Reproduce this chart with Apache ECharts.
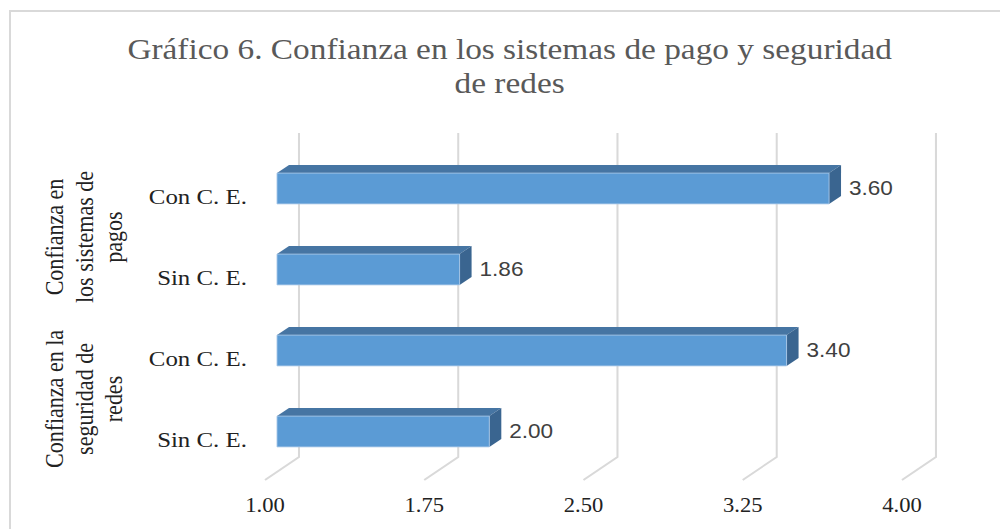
<!DOCTYPE html>
<html>
<head>
<meta charset="utf-8">
<script src="https://cdn.jsdelivr.net/npm/echarts@6/dist/echarts.min.js"></script>
<style>
  html, body { margin: 0; padding: 0; background: #fff; overflow: hidden; }
  #frame { position: absolute; left: 9px; top: 10px; width: 1000px; height: 540px;
           border-left: 2px solid #d9d9d9; border-top: 2px solid #d9d9d9; }
  /* the source picture is stretched horizontally, so the chart is too */
  #chart { position: absolute; left: 0; top: 0; width: 885px; height: 529px;
           transform: scaleX(1.13); transform-origin: 0 0; }
</style>
</head>
<body>
<div id="frame"></div>
<div id="chart"></div>
<script>
const categories = ['Con C. E.', 'Sin C. E.', 'Con C. E.', 'Sin C. E.'];
const groups = ['Confianza en\nlos sistemas de\npagos', 'Confianza en la\nseguridad de\nredes'];
const values = [3.60, 1.86, 3.40, 2.00];
const ticks = [1.00, 1.75, 2.50, 3.25, 4.00];

// 3d offsets (chart px): bar front, bar depth, back wall
const S = 1.13;
const DX = 12 / S, DY = -8;
const WX = 34 / S, WY = -23;

var chart = echarts.init(document.getElementById('chart'), null, { renderer: 'svg' });

var option = {
  animation: false,
  title: {
    text: 'Gráfico 6. Confianza en los sistemas de pago y seguridad\nde redes',
    left: 451,
    top: 32,
    textAlign: 'center',
    padding: 0,
    textStyle: {
      fontFamily: '"Liberation Serif", serif',
      fontSize: 29.5,
      fontWeight: 'normal',
      color: '#595959',
      lineHeight: 34
    }
  },
  grid: { left: 234.5, right: 86.8, top: 156, bottom: 49, containLabel: false },
  xAxis: {
    type: 'value',
    min: 1,
    max: 4,
    interval: 0.75,
    axisLine: { show: false },
    axisTick: { show: false },
    splitLine: { show: false },
    axisLabel: {
      margin: 15,
      formatter: v => v.toFixed(2),
      fontFamily: '"Liberation Serif", serif',
      fontSize: 20,
      color: '#222'
    }
  },
  yAxis: [
    {
      type: 'category',
      data: categories,
      inverse: true,
      axisLine: { show: false },
      axisTick: { show: false },
      axisLabel: {
        interval: 0,
        margin: 16,
        fontFamily: '"Liberation Serif", serif',
        fontSize: 22,
        color: '#222'
      }
    },
    {
      type: 'category',
      data: groups,
      inverse: true,
      position: 'left',
      axisLine: { show: false },
      axisTick: { show: false },
      axisLabel: {
        interval: 0,
        rotate: 90,
        margin: 121,
        align: 'center',
        verticalAlign: 'bottom',
        lineHeight: 26,
        fontFamily: '"Liberation Serif", serif',
        fontSize: 22,
        color: '#222'
      }
    }
  ],
  series: [
    {
      // perspective gridlines: front floor edge -> back wall
      type: 'custom',
      silent: true,
      z: 1,
      data: ticks.map(t => [t, 0]),
      renderItem: function (params, api) {
        var p = api.coord([api.value(0), 0]);
        var cs = params.coordSys;
        var bottom = cs.y + cs.height, top = cs.y;
        return {
          type: 'polyline',
          shape: { points: [[p[0], bottom], [p[0] + WX, bottom + WY], [p[0] + WX, top + WY]] },
          style: { stroke: '#d9d9d9', lineWidth: 1.8, fill: null }
        };
      }
    },
    {
      type: 'custom',
      z: 2,
      data: values.map((v, i) => [v, i]),
      renderItem: function (params, api) {
        var v = api.value(0), i = api.value(1);
        var s = api.coord([1, i]);
        var e = api.coord([v, i]);
        var bh = api.size([0, 1])[1] * 0.38;
        var x0 = s[0] + DX, x1 = e[0] + DX;
        var yt = s[1] - bh / 2 + DY, yb = s[1] + bh / 2 + DY;
        return {
          type: 'group',
          children: [
            {
              type: 'polygon',
              shape: { points: [[x0, yt], [x1, yt], [x1 + DX, yt + DY], [x0 + DX, yt + DY]] },
              style: { fill: '#4675a3' }
            },
            {
              type: 'polygon',
              shape: { points: [[x1, yt], [x1, yb], [x1 + DX, yb + DY], [x1 + DX, yt + DY]] },
              style: { fill: '#3a6590' }
            },
            {
              type: 'rect',
              shape: { x: x0, y: yt, width: x1 - x0, height: yb - yt },
              style: { fill: '#5b9bd5', stroke: '#a9c8e8', lineWidth: 0.8 }
            },
            {
              type: 'text',
              x: x1 + DX + 7,
              y: (yt + yb) / 2,
              style: {
                text: v.toFixed(2),
                fill: '#404040',
                fontFamily: '"Liberation Sans", sans-serif',
                fontSize: 20,
                align: 'left',
                verticalAlign: 'middle'
              }
            }
          ]
        };
      }
    }
  ]
};

chart.setOption(option);
</script>
</body>
</html>
